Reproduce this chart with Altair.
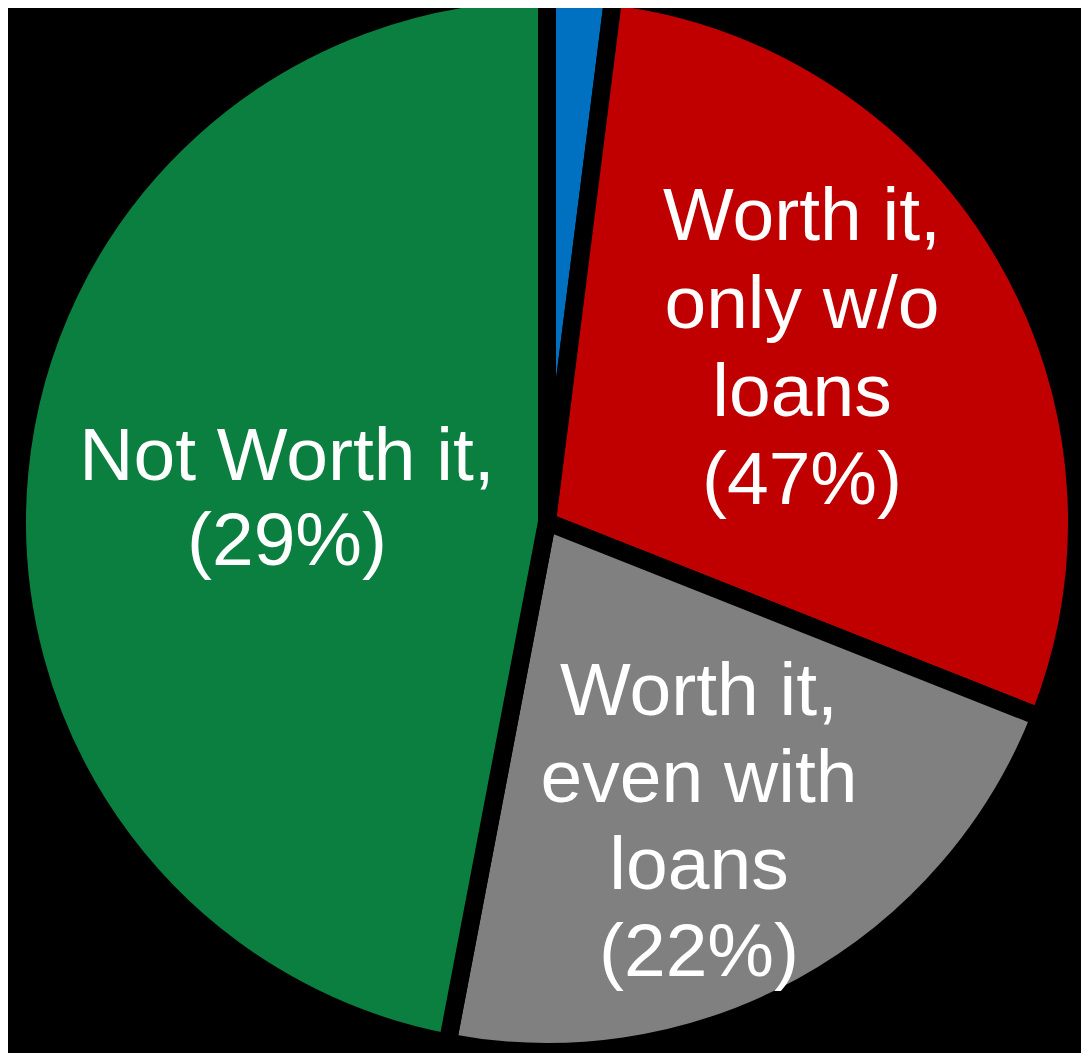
import altair as alt
import pandas as pd

# Slice data (visual shares, clockwise from 12 o'clock)
categories = ["Other", "Worth it, only w/o loans", "Worth it, even with loans", "Not Worth it"]
values = [2, 29, 22, 47]
colors = ["#0070C0", "#C00000", "#808080", "#0A7F3F"]

# Label texts as printed on the chart
label_red = ["Worth it,", "only w/o", "loans", "(47%)"]
label_gray = ["Worth it,", "even with", "loans", "(22%)"]
label_green = ["Not Worth it,", "(29%)"]

df = pd.DataFrame({"category": categories, "value": values, "order": list(range(len(categories)))})

W, H = 1073, 1045
CX, CY = 539, 514
FONT = "Liberation Sans"
FS = 75

pie = alt.Chart(df).mark_arc(
    outerRadius=530, stroke="black", strokeWidth=18
).encode(
    theta=alt.Theta("value:Q", stack=True),
    order=alt.Order("order:Q"),
    color=alt.Color("category:N", scale=alt.Scale(domain=categories, range=colors), legend=None),
    x=alt.value(CX),
    y=alt.value(CY),
)

def label(lines, x, y, lh):
    return alt.Chart(df).mark_text(
        font=FONT, fontSize=FS, color="white", align="center", baseline="alphabetic",
        lineHeight=lh,
    ).encode(
        text=alt.value(lines), x=alt.value(x), y=alt.value(y)
    ).transform_filter(alt.datum.order == 0)

chart = alt.layer(
    pie,
    label(label_green, 279, 472, 85),
    label(label_red, 794, 232, 88),
    label(label_gray, 691, 707, 87),
).properties(
    width=W, height=H, background="black", padding=0,
    autosize=alt.AutoSizeParams(type="none"),
).configure_view(stroke=None)

chart.save("out.html", embed_options={"renderer": "svg", "actions": False})
